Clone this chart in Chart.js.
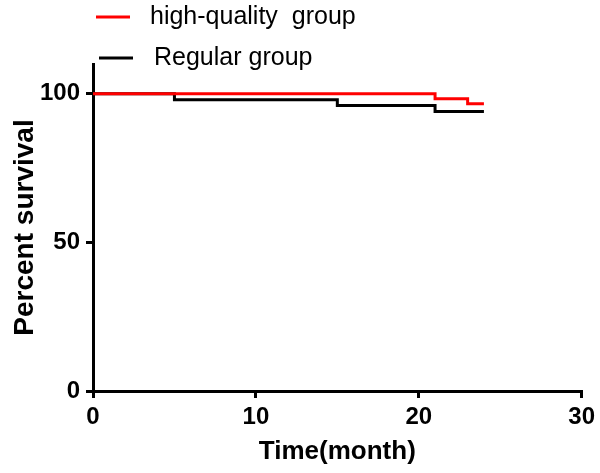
<!DOCTYPE html>
<html>
<head>
<meta charset="utf-8">
<script src="https://cdn.jsdelivr.net/npm/chart.js@4/dist/chart.umd.min.js"></script>
<style>
  html, body { margin: 0; padding: 0; background: #fff; }
  #wrap { width: 600px; height: 473px; }
</style>
</head>
<body>
<div id="wrap"><canvas id="km"></canvas></div>
<script>
// ===== Dados =====
const seriesNames = ['high-quality  group', 'Regular group'];
const seriesColors = ['#ff0000', '#000000'];

// tempos (meses) e sobrevida (%) - curva em degraus
const highTime = [0, 21, 23, 24];
const highSurv = [100, 98.3, 96.6, 96.6];
const regularTime = [0, 5, 15, 21, 24];
const regularSurv = [100, 98, 96, 94, 94];

const xTicks = [0, 10, 20, 30];
const yTicks = [0, 50, 100];

const toPoints = (t, s) => t.map((x, i) => ({ x, y: s[i] }));

// ===== Legenda desenhada à mão (duas linhas, alinhada à esquerda) =====
const legendPlugin = {
  id: 'kmLegend',
  afterDraw(chart, args, opts) {
    const ctx = chart.ctx;
    ctx.save();
    chart.data.datasets.forEach((ds, i) => {
      const row = opts.rows[i];
      ctx.strokeStyle = ds.borderColor;
      ctx.lineWidth = 3;
      ctx.beginPath();
      ctx.moveTo(row.x1, row.y);
      ctx.lineTo(row.x2, row.y);
      ctx.stroke();
      ctx.fillStyle = '#000';
      ctx.font = opts.font;
      ctx.textBaseline = 'middle';
      ctx.fillText(ds.label, row.tx, row.y);
    });
    ctx.restore();
  }
};

const fam = 'Liberation Sans, Arial, sans-serif';
const tickFont = { family: fam, size: 24, weight: 'bold' };

new Chart(document.getElementById('km'), {
  type: 'line',
  data: {
    datasets: [
      {
        label: seriesNames[0],
        data: toPoints(highTime, highSurv),
        borderColor: seriesColors[0],
        borderWidth: 3,
        stepped: true,
        pointRadius: 0,
        fill: false
      },
      {
        label: seriesNames[1],
        data: toPoints(regularTime, regularSurv),
        borderColor: seriesColors[1],
        borderWidth: 3,
        stepped: true,
        pointRadius: 0,
        fill: false
      }
    ]
  },
  options: {
    responsive: true,
    maintainAspectRatio: false,
    animation: false,
    layout: { padding: { top: 64, right: 17, left: 0, bottom: 0 } },
    plugins: {
      legend: { display: false },
      tooltip: { enabled: false },
      kmLegend: {
        font: '25px "Liberation Sans", Arial, sans-serif',
        rows: [
          { x1: 96, x2: 130, tx: 150, y: 17 },
          { x1: 99, x2: 133, tx: 154, y: 58 }
        ]
      }
    },
    scales: {
      x: {
        type: 'linear',
        min: 0,
        max: 30,
        afterBuildTicks: axis => { axis.ticks = xTicks.map(v => ({ value: v })); },
        afterFit: axis => { axis.height = 82; },
        border: { color: '#000', width: 3 },
        grid: { drawOnChartArea: false, drawTicks: true, tickLength: 7, color: '#000', lineWidth: 3 },
        ticks: { color: '#000', font: tickFont, padding: 5, maxRotation: 0 },
        title: { display: true, text: 'Time(month)', color: '#000', font: { family: fam, size: 26, weight: 'bold' }, padding: { bottom: 6 } }
      },
      y: {
        type: 'linear',
        min: 0,
        max: 110,
        afterBuildTicks: axis => { axis.ticks = yTicks.map(v => ({ value: v })); },
        afterFit: axis => { axis.width = 93; },
        border: { color: '#000', width: 3 },
        grid: { drawOnChartArea: false, drawTicks: true, tickLength: 7, color: '#000', lineWidth: 3 },
        ticks: { color: '#000', font: tickFont, padding: 6 },
        title: { display: true, text: 'Percent survival', color: '#000', font: { family: fam, size: 28, weight: 'bold' }, padding: { top: 8 } }
      }
    }
  },
  plugins: [legendPlugin]
});
</script>
</body>
</html>
